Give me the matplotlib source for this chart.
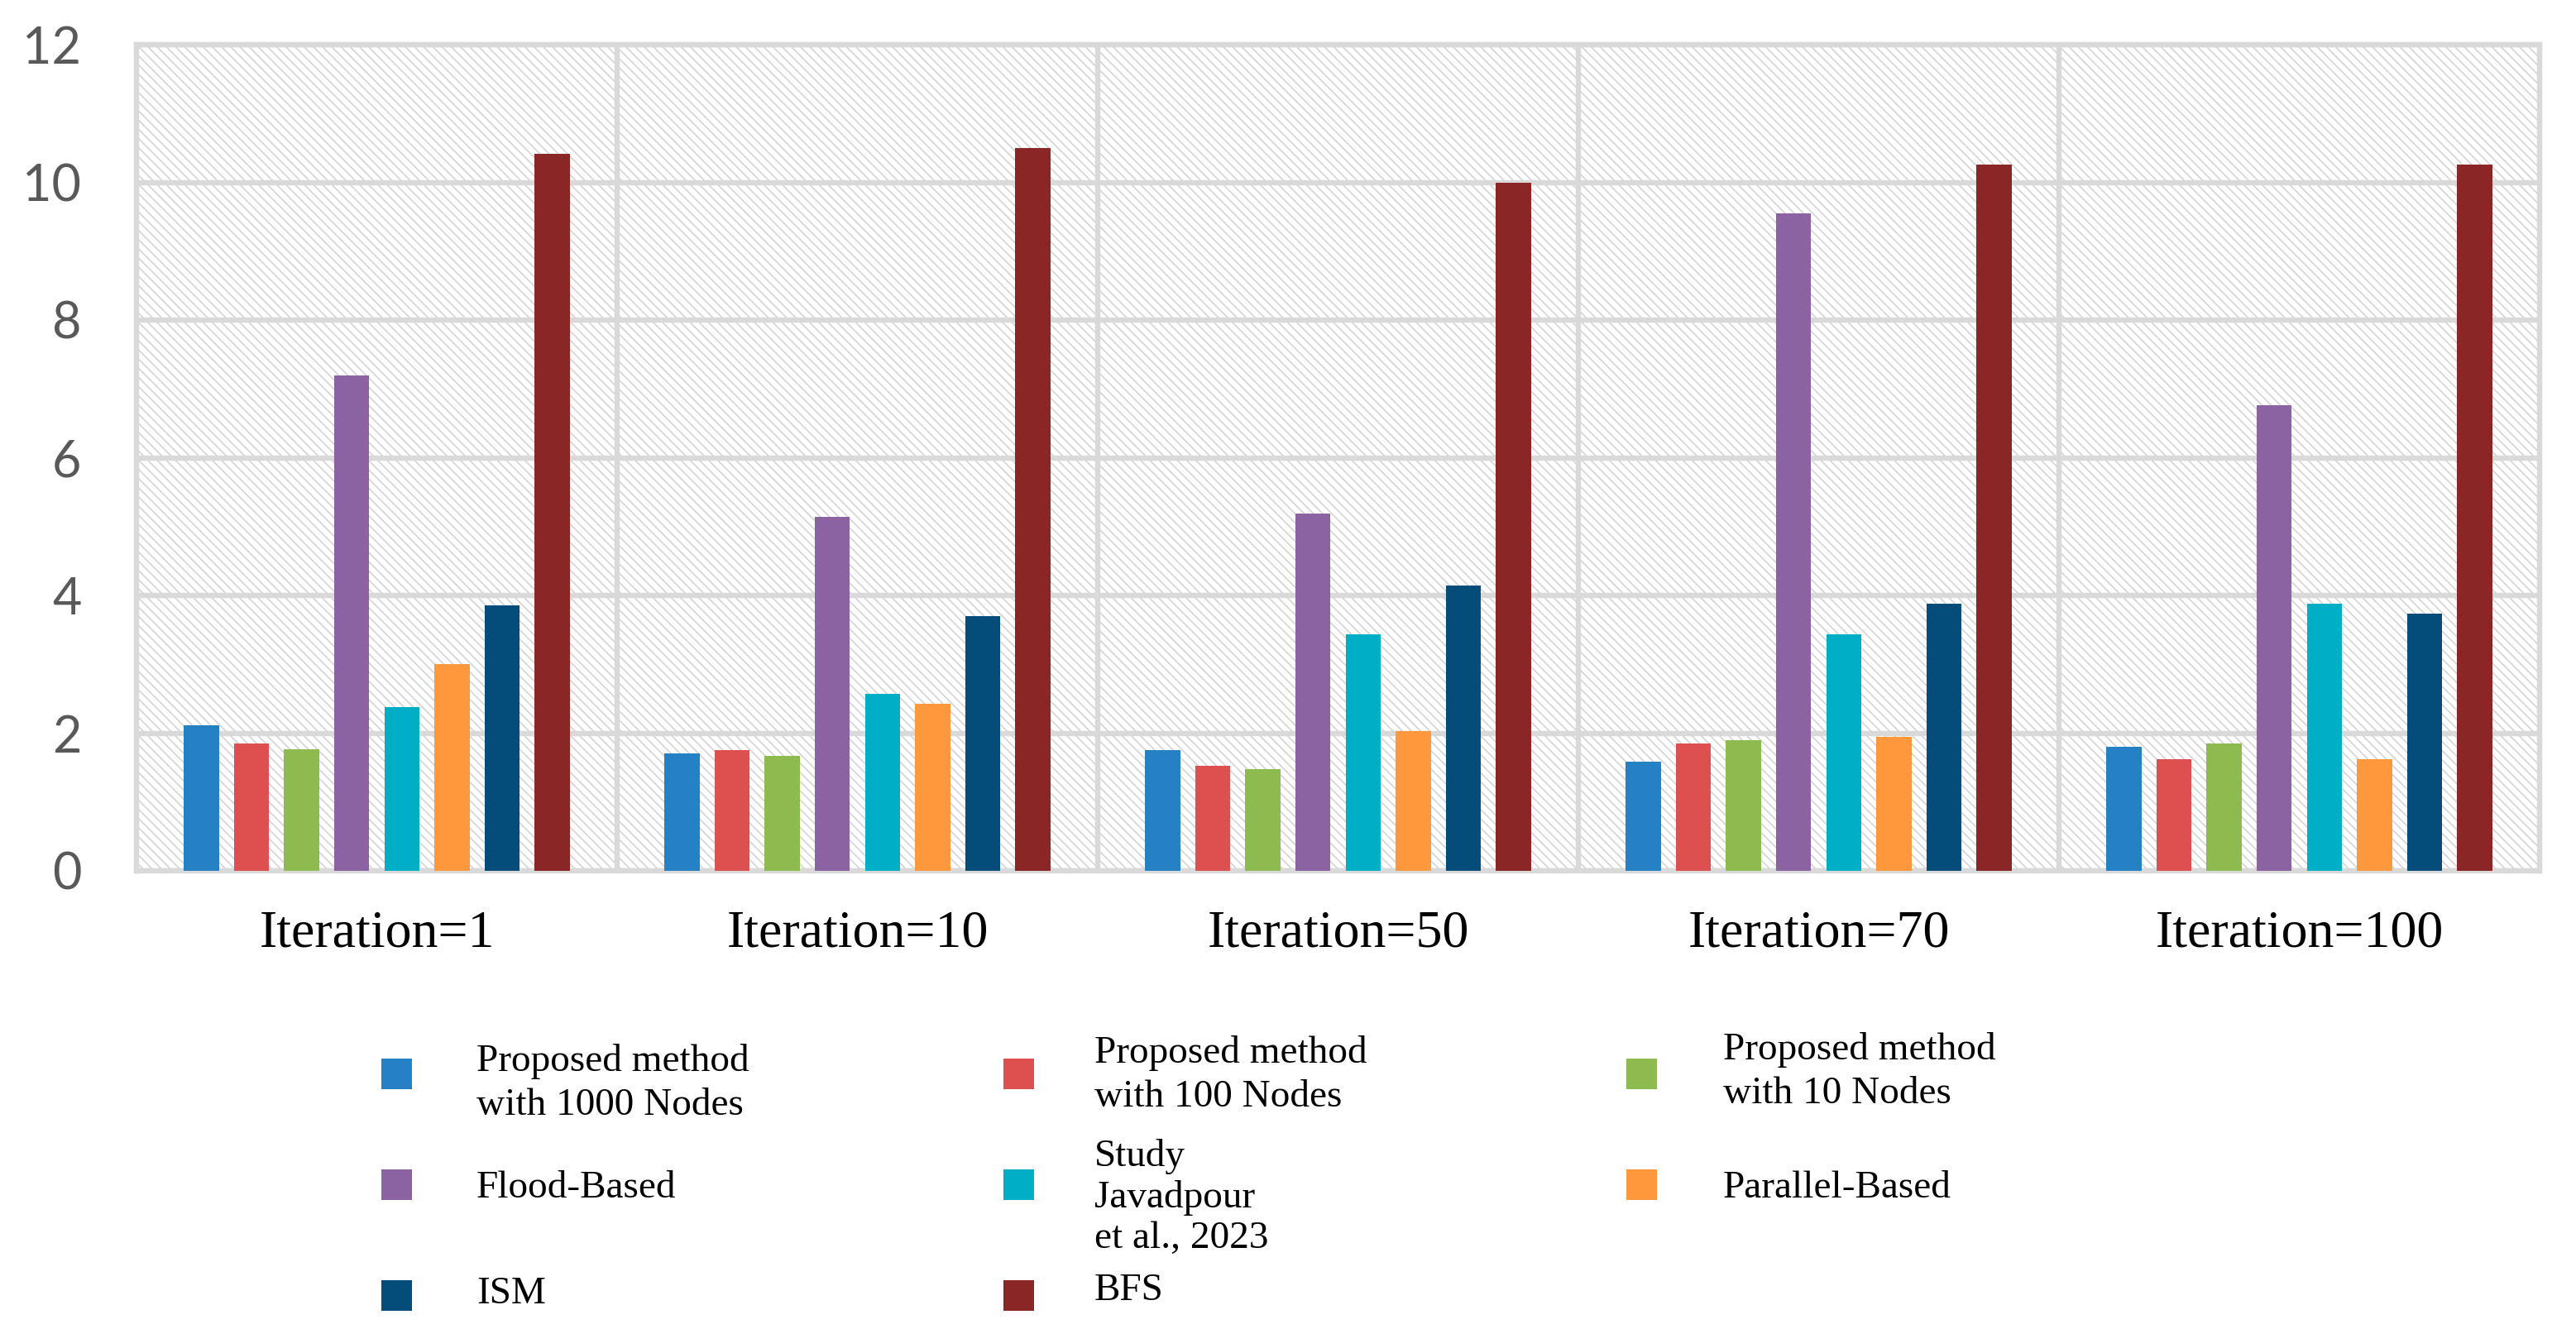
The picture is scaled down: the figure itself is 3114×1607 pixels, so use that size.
import matplotlib
matplotlib.use("Agg")
import matplotlib.pyplot as plt
from matplotlib.patches import Rectangle
import numpy as np

categories = ["Iteration=1", "Iteration=10", "Iteration=50", "Iteration=70", "Iteration=100"]
series_names = ["Proposed method\nwith 1000 Nodes", "Proposed method\nwith 100 Nodes",
                "Proposed method\nwith 10 Nodes", "Flood-Based", "Study\nJavadpour\net al., 2023",
                "Parallel-Based", "ISM", "BFS"]
proposed_1000 = [2.12, 1.71, 1.75, 1.58, 1.80]
proposed_100 = [1.85, 1.75, 1.53, 1.85, 1.62]
proposed_10 = [1.76, 1.67, 1.48, 1.90, 1.85]
flood_based = [7.20, 5.14, 5.19, 9.55, 6.76]
javadpour_2023 = [2.38, 2.57, 3.43, 3.43, 3.88]
parallel_based = [3.00, 2.43, 2.03, 1.94, 1.62]
ism = [3.85, 3.70, 4.15, 3.88, 3.74]
bfs = [10.42, 10.50, 10.00, 10.26, 10.26]
yticks = [0, 2, 4, 6, 8, 10, 12]

series = [proposed_1000, proposed_100, proposed_10, flood_based,
          javadpour_2023, parallel_based, ism, bfs]
colors = ["#2581c4", "#de5050", "#8dbb4f", "#8b63a3", "#00afc6", "#fd993c", "#044d7a", "#8a2626"]

W, H, DPI = 3114, 1607, 200
fig = plt.figure(figsize=(W / DPI, H / DPI), dpi=DPI)
plt.rcParams['hatch.linewidth'] = 0.6

L, R, B, T = 165, 3070, 1053, 54
ax = fig.add_axes([L / W, 1 - B / H, (R - L) / W, (B - T) / H])

grid_c = "#d9d9d9"
ax.add_patch(Rectangle((0, 0), 1, 1, transform=ax.transAxes, facecolor="white",
                       edgecolor="#d5d5d5", hatch="\\\\\\\\\\\\", linewidth=0, zorder=0.1))

n = len(series)
pitch = 0.1043
bw = 0.073
xc = np.arange(len(categories)) + 0.5
for k, (vals, c) in enumerate(zip(series, colors)):
    ax.bar(xc + (k - (n - 1) / 2) * pitch, vals, width=bw, color=c, zorder=3, linewidth=0)

ax.set_xlim(0, len(categories))
ax.set_ylim(0, 12)
ax.set_yticks(yticks)
ax.set_yticklabels([str(v) for v in yticks], fontfamily="Lato", fontsize=22, color="#595959")
ax.set_xticks(xc)
ax.set_xticklabels(categories, fontfamily="Liberation Serif", fontsize=23, color="black")
ax.set_xticks(np.arange(1, len(categories)), minor=True)
ax.tick_params(axis="both", which="both", length=0)
ax.tick_params(axis="y", pad=24)
ax.tick_params(axis="x", pad=17)
ax.grid(True, axis="y", which="major", color=grid_c, linewidth=2.3, zorder=1)
ax.grid(True, axis="x", which="minor", color=grid_c, linewidth=2.3, zorder=1)
ax.grid(False, axis="x", which="major")
ax.set_axisbelow(True)
for s in ax.spines.values():
    s.set_color(grid_c)
    s.set_linewidth(2.3)
    s.set_zorder(1)

# Legend (manual, 3 columns)
sq = 37
sq_x = [461, 1213, 1966]
txt_x = [576, 1323, 2083]
row_y = [1298, 1432, 1566]
txt_y = [[1310, 1300, 1296], [1437, 1448, 1437], [1565, 1561, None]]
for i, (name, c) in enumerate(zip(series_names, colors)):
    r, col = divmod(i, 3)
    cy = row_y[r]
    fig.add_artist(Rectangle((sq_x[col] / W, 1 - (cy + sq / 2) / H), sq / W, sq / H,
                             transform=fig.transFigure, facecolor=c, edgecolor="none"))
    ls = 1.2 if name.count("\n") >= 2 else 1.35
    fig.text(txt_x[col] / W, 1 - txt_y[r][col] / H, name, fontfamily="Liberation Serif",
             fontsize=17, color="black", ha="left", va="center", linespacing=ls)

fig.savefig("out.png", dpi=DPI, facecolor="white")
